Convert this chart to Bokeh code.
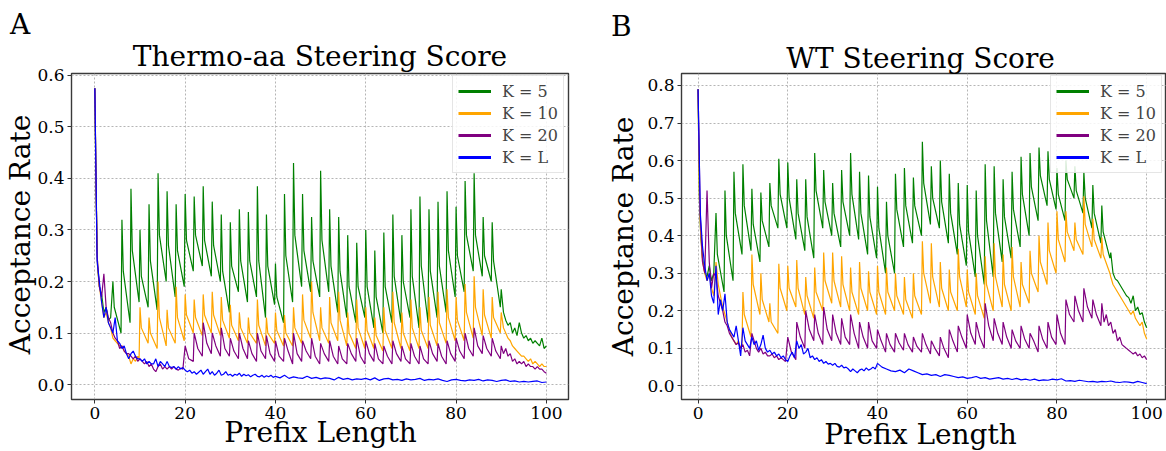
import numpy as np
from bokeh.plotting import figure
from bokeh.layouts import row
from bokeh.models import (Range1d, FixedTicker, NumeralTickFormatter, Label,
                          Legend, LegendItem)
from bokeh.embed import file_html
from bokeh.resources import INLINE

FONT = "DejaVu Serif"
SERIES_LABELS = ["K = 5", "K = 10", "K = 20", "K = L"]
SERIES_COLORS = ["green", "orange", "purple", "blue"]
X_TICKS = [0, 20, 40, 60, 80, 100]
A_Y_TICKS = [0.0, 0.1, 0.2, 0.3, 0.4, 0.5, 0.6]
B_Y_TICKS = [0.0, 0.1, 0.2, 0.3, 0.4, 0.5, 0.6, 0.7, 0.8]

# ---------------- Panel A : Thermo-aa Steering Score ----------------
A_K5_HEAD_X = [0, 0.3, 0.6, 1, 1.5, 2, 2.5, 3, 3.5]
A_K5_HEAD_Y = [0.575, 0.36, 0.23, 0.19, 0.175, 0.14, 0.15, 0.125, 0.13]
A_K5_PEAKS = [0.20, 0.32, 0.38, 0.30, 0.35, 0.41, 0.375, 0.35, 0.37, 0.365,
              0.385, 0.355, 0.33, 0.315, 0.34, 0.335, 0.385, 0.33, 0.235, 0.37,
              0.43, 0.37, 0.325, 0.415, 0.34, 0.325, 0.29, 0.275, 0.30, 0.26,
              0.295, 0.33, 0.29, 0.34, 0.365, 0.34, 0.355, 0.375, 0.345, 0.395,
              0.41, 0.325, 0.315]
A_K5_SHOULDERS = [0.15, 0.22, 0.26, 0.21, 0.24, 0.29, 0.27, 0.26, 0.28, 0.29,
                  0.28, 0.27, 0.22, 0.23, 0.24, 0.24, 0.24, 0.23, 0.17, 0.25,
                  0.29, 0.26, 0.24, 0.28, 0.23, 0.22, 0.19, 0.19, 0.19, 0.17,
                  0.19, 0.21, 0.20, 0.21, 0.23, 0.22, 0.23, 0.26, 0.25, 0.29,
                  0.29, 0.25, 0.24]
A_K5_TROUGHS = [0.10, 0.12, 0.16, 0.15, 0.145, 0.20, 0.17, 0.19, 0.22, 0.23,
                0.21, 0.20, 0.14, 0.18, 0.16, 0.17, 0.13, 0.155, 0.12, 0.16,
                0.19, 0.18, 0.17, 0.18, 0.14, 0.13, 0.12, 0.13, 0.11, 0.10,
                0.12, 0.12, 0.13, 0.11, 0.12, 0.13, 0.14, 0.17, 0.18, 0.22,
                0.21, 0.20, 0.15]
A_TAIL_X = [90, 90.5, 91, 91.5, 92, 92.5, 93, 93.5, 94, 94.5, 95, 95.5, 96,
            96.5, 97, 97.5, 98, 98.5, 99, 99.5, 100]
A_K5_TAIL_Y = [0.185, 0.14, 0.125, 0.115, 0.12, 0.10, 0.11, 0.095, 0.12, 0.10,
               0.09, 0.095, 0.085, 0.09, 0.08, 0.085, 0.08, 0.075, 0.09, 0.07,
               0.075]

K10_HEAD_X = [0, 0.3, 0.6, 1, 1.5, 2, 2.5, 3, 3.5, 4, 4.5, 5, 5.5, 6, 6.5, 7,
              7.5, 8, 8.5, 9, 9.5, 9.8]
A_K10_HEAD_Y = [0.575, 0.36, 0.23, 0.19, 0.16, 0.13, 0.14, 0.12, 0.11, 0.09,
                0.085, 0.08, 0.075, 0.075, 0.065, 0.06, 0.055, 0.04, 0.05,
                0.045, 0.055, 0.05]
A_K10_PEAKS = [0.15, 0.13, 0.20, 0.145, 0.19, 0.175, 0.165, 0.175, 0.18, 0.17,
               0.155, 0.14, 0.13, 0.165, 0.13, 0.14, 0.135, 0.15, 0.175, 0.20,
               0.15, 0.17, 0.18, 0.14, 0.165, 0.15, 0.13, 0.15, 0.18, 0.14,
               0.165, 0.15, 0.17, 0.18, 0.185, 0.17, 0.195, 0.21, 0.185, 0.17]
A_K10_SHOULDERS = [0.11, 0.10, 0.13, 0.11, 0.13, 0.135, 0.13, 0.135, 0.135, 0.125,
                   0.115, 0.11, 0.10, 0.115, 0.10, 0.105, 0.10, 0.11, 0.125, 0.14,
                   0.11, 0.12, 0.125, 0.10, 0.11, 0.105, 0.095, 0.105, 0.12, 0.10,
                   0.11, 0.105, 0.115, 0.12, 0.13, 0.125, 0.14, 0.15, 0.135, 0.13]
A_K10_TROUGHS = [0.08, 0.07, 0.075, 0.08, 0.085, 0.10, 0.095, 0.10, 0.095, 0.09,
                 0.085, 0.08, 0.08, 0.075, 0.08, 0.075, 0.075, 0.08, 0.09, 0.085,
                 0.08, 0.085, 0.075, 0.07, 0.07, 0.07, 0.065, 0.07, 0.07, 0.065,
                 0.07, 0.07, 0.075, 0.08, 0.085, 0.085, 0.09, 0.095, 0.09, 0.10]
A_K10_TAIL_Y = [0.14, 0.11, 0.10, 0.09, 0.085, 0.075, 0.07, 0.065, 0.06, 0.055,
                0.055, 0.05, 0.045, 0.05, 0.04, 0.045, 0.04, 0.035, 0.04, 0.035,
                0.035]

K20_HEAD_X = list(np.arange(0, 20, 0.5))
A_K20_HEAD_Y = [0.575, 0.25, 0.19, 0.17, 0.215, 0.15, 0.13, 0.12, 0.10, 0.09,
                0.085, 0.07, 0.075, 0.065, 0.06, 0.06, 0.055, 0.05, 0.055, 0.045,
                0.05, 0.045, 0.04, 0.045, 0.035, 0.04, 0.03, 0.025, 0.035, 0.04,
                0.03, 0.035, 0.03, 0.035, 0.03, 0.035, 0.03, 0.028, 0.032, 0.03]
A_K20_PEAKS = [0.075, 0.10, 0.12, 0.10, 0.11, 0.09, 0.10, 0.085, 0.10, 0.095,
               0.085, 0.09, 0.10, 0.085, 0.09, 0.08, 0.085, 0.075, 0.08, 0.09,
               0.085, 0.08, 0.075, 0.085, 0.075, 0.08, 0.075, 0.085, 0.08, 0.085,
               0.09, 0.10, 0.11, 0.095, 0.09]
A_K20_MIDS = [0.05, 0.07, 0.08, 0.075, 0.07, 0.065, 0.07, 0.06, 0.065, 0.06,
              0.055, 0.065, 0.06, 0.065, 0.055, 0.06, 0.055, 0.05, 0.06, 0.055,
              0.06, 0.05, 0.055, 0.06, 0.05, 0.055, 0.05, 0.06, 0.055, 0.06,
              0.065, 0.07, 0.075, 0.07, 0.065]
A_K20_TROUGHS = [0.045, 0.055, 0.06, 0.055, 0.055, 0.05, 0.05, 0.045, 0.05, 0.045,
                 0.045, 0.04, 0.045, 0.05, 0.04, 0.045, 0.04, 0.04, 0.045, 0.04,
                 0.045, 0.04, 0.04, 0.045, 0.04, 0.04, 0.04, 0.045, 0.04, 0.045,
                 0.05, 0.055, 0.06, 0.055, 0.05]
A_K20_TAIL_Y = [0.075, 0.06, 0.07, 0.055, 0.06, 0.045, 0.05, 0.04, 0.045, 0.04,
                0.045, 0.035, 0.04, 0.035, 0.035, 0.03, 0.035, 0.03, 0.03, 0.025,
                0.022]

KL_X = list(np.arange(0, 40, 0.5)) + list(range(40, 101))
A_KL_Y = [0.575, 0.24, 0.20, 0.16, 0.13, 0.15, 0.12, 0.11, 0.10, 0.13,
          0.085, 0.08, 0.07, 0.075, 0.06, 0.05, 0.06, 0.065, 0.055, 0.05,
          0.05, 0.045, 0.05, 0.04, 0.045, 0.04, 0.04, 0.05, 0.035, 0.045,
          0.04, 0.035, 0.045, 0.035, 0.033, 0.035, 0.03, 0.035, 0.03, 0.033,
          0.028, 0.025, 0.028, 0.022, 0.025, 0.02, 0.024, 0.028, 0.02, 0.025,
          0.03, 0.02, 0.025, 0.018, 0.022, 0.028, 0.018, 0.02, 0.025, 0.018,
          0.02, 0.016, 0.02, 0.018, 0.022, 0.016, 0.02, 0.017, 0.019, 0.015,
          0.018, 0.02, 0.016, 0.015, 0.018, 0.014, 0.017, 0.015, 0.018, 0.014,
          0.016, 0.013, 0.018, 0.012, 0.015, 0.013, 0.012, 0.016, 0.012, 0.014,
          0.011, 0.013, 0.012, 0.009, 0.014, 0.01, 0.012, 0.009, 0.011, 0.01,
          0.012, 0.009, 0.013, 0.008, 0.011, 0.012, 0.009, 0.01, 0.008, 0.011,
          0.009, 0.01, 0.012, 0.008, 0.01, 0.009, 0.011, 0.008, 0.006, 0.009,
          0.01, 0.008, 0.007, 0.009, 0.008, 0.01, 0.007, 0.009, 0.008, 0.006,
          0.008, 0.009, 0.006, 0.007, 0.005, 0.006, 0.005, 0.006, 0.007, 0.004,
          0.005]

# ---------------- Panel B : WT Steering Score ----------------
B_K5_HEAD_Y = [0.79, 0.50, 0.40, 0.34, 0.30, 0.29, 0.32, 0.28, 0.30]
B_K5_PEAKS = [0.46, 0.52, 0.57, 0.59, 0.525, 0.515, 0.54, 0.605, 0.595, 0.55,
              0.55, 0.62, 0.575, 0.54, 0.575, 0.62, 0.57, 0.56, 0.53, 0.49,
              0.565, 0.58, 0.555, 0.65, 0.585, 0.60, 0.565, 0.54, 0.535, 0.52,
              0.59, 0.585, 0.55, 0.57, 0.61, 0.62, 0.635, 0.625, 0.58, 0.60,
              0.585, 0.57, 0.535, 0.48]
B_K5_SHOULDERS = [0.35, 0.40, 0.46, 0.48, 0.43, 0.44, 0.48, 0.51, 0.50, 0.46,
                  0.45, 0.52, 0.49, 0.46, 0.49, 0.51, 0.46, 0.45, 0.42, 0.40,
                  0.47, 0.48, 0.48, 0.54, 0.50, 0.49, 0.46, 0.43, 0.41, 0.40,
                  0.44, 0.46, 0.45, 0.47, 0.51, 0.53, 0.56, 0.55, 0.51, 0.55,
                  0.52, 0.50, 0.46, 0.41]
B_K5_TROUGHS = [0.25, 0.28, 0.35, 0.36, 0.33, 0.37, 0.42, 0.42, 0.39, 0.36,
                0.34, 0.42, 0.40, 0.37, 0.40, 0.39, 0.35, 0.34, 0.30, 0.30,
                0.37, 0.38, 0.40, 0.43, 0.42, 0.38, 0.35, 0.32, 0.29, 0.27,
                0.29, 0.33, 0.34, 0.37, 0.40, 0.44, 0.48, 0.47, 0.44, 0.50,
                0.46, 0.42, 0.38, 0.34]
B_TAIL_X = [92, 92.5, 93, 93.5, 94, 94.5, 95, 95.5, 96, 96.5, 97, 97.5, 98,
            98.5, 99, 99.5, 100]
B_K5_TAIL_Y = [0.355, 0.30, 0.285, 0.28, 0.27, 0.26, 0.25, 0.24, 0.235, 0.22,
               0.24, 0.20, 0.21, 0.19, 0.195, 0.17, 0.155]

B_K10_HEAD_Y = [0.79, 0.50, 0.40, 0.33, 0.30, 0.28, 0.30, 0.26, 0.24, 0.33,
                0.27, 0.24, 0.21, 0.19, 0.17, 0.15, 0.13, 0.12, 0.11, 0.12,
                0.10, 0.11]
B_K10_PEAKS = [0.25, 0.35, 0.30, 0.22, 0.325, 0.32, 0.335, 0.29, 0.315, 0.355,
               0.355, 0.345, 0.315, 0.33, 0.305, 0.32, 0.315, 0.30, 0.29, 0.30,
               0.385, 0.38, 0.33, 0.31, 0.365, 0.31, 0.30, 0.345, 0.38, 0.35,
               0.37, 0.33, 0.36, 0.40, 0.435, 0.465, 0.465, 0.435, 0.505, 0.445,
               0.395]
B_K10_SHOULDERS = [0.19, 0.27, 0.23, 0.17, 0.26, 0.26, 0.26, 0.24, 0.25, 0.28,
                   0.28, 0.27, 0.25, 0.26, 0.25, 0.25, 0.25, 0.24, 0.23, 0.24,
                   0.30, 0.29, 0.26, 0.25, 0.29, 0.25, 0.24, 0.27, 0.29, 0.27,
                   0.29, 0.27, 0.30, 0.33, 0.36, 0.39, 0.41, 0.39, 0.43, 0.39,
                   0.35]
B_K10_TROUGHS = [0.13, 0.19, 0.17, 0.14, 0.20, 0.21, 0.19, 0.18, 0.20, 0.22,
                 0.21, 0.20, 0.19, 0.20, 0.19, 0.19, 0.20, 0.19, 0.18, 0.19,
                 0.22, 0.21, 0.20, 0.20, 0.21, 0.19, 0.18, 0.20, 0.21, 0.20,
                 0.21, 0.22, 0.25, 0.27, 0.30, 0.33, 0.36, 0.35, 0.37, 0.34,
                 0.30]
B_K10_TAIL_Y = [0.29, 0.27, 0.26, 0.25, 0.24, 0.23, 0.22, 0.21, 0.20, 0.19,
                0.20, 0.18, 0.17, 0.16, 0.17, 0.14, 0.125]

B_K20_HEAD_Y = [0.79, 0.45, 0.33, 0.30, 0.52, 0.33, 0.26, 0.30, 0.29, 0.24,
                0.22, 0.20, 0.17, 0.16, 0.14, 0.13, 0.12, 0.11, 0.115, 0.10,
                0.11, 0.09, 0.095, 0.08, 0.14, 0.12, 0.10, 0.09, 0.10, 0.085,
                0.09, 0.08, 0.08, 0.085, 0.075, 0.08, 0.07, 0.075, 0.07, 0.065]
B_K20_PEAKS = [0.13, 0.17, 0.20, 0.19, 0.21, 0.19, 0.18, 0.19, 0.17, 0.17,
               0.15, 0.14, 0.14, 0.14, 0.13, 0.14, 0.12, 0.13, 0.15, 0.16,
               0.19, 0.17, 0.22, 0.18, 0.17, 0.15, 0.16, 0.14, 0.16, 0.17,
               0.19, 0.23, 0.24, 0.26, 0.23]
B_K20_MIDS = [0.09, 0.13, 0.15, 0.14, 0.15, 0.14, 0.13, 0.14, 0.13, 0.12,
              0.12, 0.11, 0.115, 0.11, 0.105, 0.11, 0.10, 0.10, 0.12, 0.13,
              0.14, 0.13, 0.16, 0.14, 0.13, 0.12, 0.125, 0.12, 0.125, 0.13,
              0.14, 0.19, 0.20, 0.21, 0.19]
B_K20_TROUGHS = [0.07, 0.10, 0.12, 0.11, 0.12, 0.11, 0.11, 0.10, 0.10, 0.10,
                 0.09, 0.09, 0.095, 0.09, 0.09, 0.085, 0.08, 0.075, 0.09, 0.10,
                 0.11, 0.10, 0.12, 0.11, 0.10, 0.10, 0.10, 0.09, 0.10, 0.11,
                 0.11, 0.17, 0.17, 0.18, 0.16]
B_K20_TAIL_Y = [0.22, 0.17, 0.19, 0.16, 0.17, 0.14, 0.15, 0.12, 0.13, 0.11,
                0.105, 0.10, 0.095, 0.09, 0.085, 0.09, 0.08, 0.085, 0.075, 0.08,
                0.07]

B_KL_Y = [0.79, 0.46, 0.37, 0.32, 0.28, 0.30, 0.24, 0.22, 0.32, 0.19,
          0.23, 0.20, 0.245, 0.17, 0.15, 0.14, 0.13, 0.16, 0.12, 0.08,
          0.155, 0.12, 0.11, 0.10, 0.13, 0.11, 0.12, 0.095, 0.11, 0.135,
          0.10, 0.09, 0.095, 0.085, 0.09, 0.08, 0.085, 0.075, 0.08, 0.07,
          0.065, 0.08, 0.09, 0.075, 0.12, 0.10, 0.11, 0.085, 0.09, 0.10,
          0.075, 0.08, 0.07, 0.075, 0.065, 0.07, 0.06, 0.065, 0.058, 0.06,
          0.055, 0.06, 0.052, 0.05, 0.055, 0.048, 0.05, 0.045, 0.038, 0.045,
          0.04, 0.035, 0.042, 0.045, 0.04, 0.048, 0.042, 0.045, 0.05, 0.045,
          0.06, 0.05, 0.045, 0.04, 0.038, 0.042, 0.035, 0.045, 0.04, 0.035,
          0.03, 0.032, 0.028, 0.03, 0.025, 0.03, 0.028, 0.025, 0.022, 0.024,
          0.02, 0.022, 0.025, 0.02, 0.022, 0.018, 0.02, 0.022, 0.018, 0.02,
          0.017, 0.02, 0.016, 0.018, 0.015, 0.018, 0.014, 0.016, 0.015, 0.018,
          0.016, 0.019, 0.013, 0.014, 0.012, 0.015, 0.013, 0.011, 0.012, 0.01,
          0.012, 0.011, 0.013, 0.01, 0.009, 0.011, 0.01, 0.008, 0.012, 0.009,
          0.006]


def build(head_x, head_y, start, tops, middles, bottoms, mid_dx, tail_x, tail_y):
    xs, ys = list(head_x), list(head_y)
    for i, (a, m, b) in enumerate(zip(tops, middles, bottoms)):
        x0 = start + 2 * i
        xs += [x0, x0 + mid_dx, x0 + 1.8]
        ys += [a, m, b]
    xs += list(tail_x)
    ys += list(tail_y)
    return xs, ys


def to_data(px, py, fr, xr, yr):
    # fr: page coordinates of the plotting frame (l, r, t, b)
    l, r, t, b = fr
    x = xr[0] + (px - l) / (r - l) * (xr[1] - xr[0])
    y = yr[0] + (b - py) / (b - t) * (yr[1] - yr[0])
    return x, y


SHIFT = 10.5   # baseline correction for side-panel labels (px)


def make_panel(width, height, x0, fr, xr, yr, yticks, series, title, letter,
               letter_pos, letter_side, title_pos, ylab_pos, xlab_pos,
               legend_loc):
    l, r, t, b = fr
    p = figure(width=width, height=height, x_range=Range1d(*xr),
               y_range=Range1d(*yr), output_backend="svg",
               toolbar_location=None,
               min_border_left=int(round(l - x0)),
               min_border_right=int(round(x0 + width - r)),
               min_border_top=int(round(t)),
               min_border_bottom=int(round(height - b)))
    p.background_fill_color = "white"
    p.border_fill_color = "white"
    p.outline_line_color = "#3a3a3a"
    p.outline_line_width = 1.4
    p.xaxis.ticker = FixedTicker(ticks=X_TICKS)
    p.yaxis.ticker = FixedTicker(ticks=yticks)
    p.yaxis.formatter = NumeralTickFormatter(format="0.0")
    for ax in (p.xaxis, p.yaxis):
        ax.axis_line_color = None
        ax.major_tick_line_color = "#333333"
        ax.major_tick_out = 4
        ax.major_tick_in = 0
        ax.minor_tick_line_color = None
        ax.major_label_standoff = 3
        ax.major_label_text_font = FONT
        ax.major_label_text_font_size = "17px"
        ax.major_label_text_color = "black"
    p.grid.grid_line_color = "#b5b5b5"
    p.grid.grid_line_dash = "2 2"
    p.grid.grid_line_width = 1

    items = []
    for (xs, ys), lab, col in zip(series, SERIES_LABELS, SERIES_COLORS):
        p.line(xs, ys, line_color=col, line_width=1.2)
        dummy = p.line(np.array([np.nan, np.nan]), np.array([np.nan, np.nan]),
                       line_color=col, line_width=2.8)
        items.append(LegendItem(label=lab, renderers=[dummy]))

    leg = Legend(items=items, location=legend_loc)
    leg.label_text_font = FONT
    leg.label_text_font_size = "16px"
    leg.glyph_width = 33
    leg.glyph_height = 20
    leg.label_height = 20
    leg.label_standoff = 11
    leg.padding = 5
    leg.spacing = 2
    leg.margin = 0
    leg.border_line_color = "#cccccc"
    leg.border_line_width = 1
    leg.background_fill_color = "white"
    leg.background_fill_alpha = 0.85
    p.add_layout(leg)

    common = dict(text_font=FONT, text_color="black", text_font_size="28px")
    lx, ly = to_data(letter_pos[0], letter_pos[1] - SHIFT, fr, xr, yr)
    p.add_layout(Label(x=lx, y=ly, text=letter, text_align="left",
                       text_baseline="alphabetic", **common), letter_side)
    tx, ty = to_data(title_pos[0], title_pos[1] - SHIFT, fr, xr, yr)
    p.add_layout(Label(x=tx, y=ty, text=title, text_align="center",
                       text_baseline="alphabetic", **common), "above")
    xx, xy = to_data(xlab_pos[0], xlab_pos[1] - SHIFT, fr, xr, yr)
    p.add_layout(Label(x=xx, y=xy, text="Prefix Length", text_align="center",
                       text_baseline="alphabetic", **common), "above")
    yx, yy = to_data(ylab_pos[0] - SHIFT, ylab_pos[1], fr, xr, yr)
    p.add_layout(Label(x=yx, y=yy, text="Acceptance Rate", angle=np.pi / 2,
                       text_align="center", text_baseline="alphabetic",
                       **common), "left")
    return p


# ---- Panel A ----
a_series = [
    build(A_K5_HEAD_X, A_K5_HEAD_Y, 4, A_K5_PEAKS, A_K5_SHOULDERS, A_K5_TROUGHS,
          0.3, A_TAIL_X, A_K5_TAIL_Y),
    build(K10_HEAD_X, A_K10_HEAD_Y, 10, A_K10_PEAKS, A_K10_SHOULDERS,
          A_K10_TROUGHS, 0.3, A_TAIL_X, A_K10_TAIL_Y),
    build(K20_HEAD_X, A_K20_HEAD_Y, 20, A_K20_PEAKS, A_K20_MIDS, A_K20_TROUGHS,
          0.8, A_TAIL_X, A_K20_TAIL_Y),
    (KL_X, A_KL_Y),
]
A_FR = (71, 568, 73, 401)
A_XR = (-5.17, 104.9)
A_YR = (-0.029, 0.6037)
pa = make_panel(590, 451, 0, A_FR, A_XR, A_YR, A_Y_TICKS, a_series,
                "Thermo-aa Steering Score", "A", (9.5, 34.5), "right",
                (319.5, 66.5), (30.5, 235), (320, 444.5), (381, 226))

# ---- Panel B ----
b_series = [
    build(A_K5_HEAD_X, B_K5_HEAD_Y, 4, B_K5_PEAKS, B_K5_SHOULDERS, B_K5_TROUGHS,
          0.3, B_TAIL_X, B_K5_TAIL_Y),
    build(K10_HEAD_X, B_K10_HEAD_Y, 10, B_K10_PEAKS, B_K10_SHOULDERS,
          B_K10_TROUGHS, 0.3, B_TAIL_X, B_K10_TAIL_Y),
    build(K20_HEAD_X, B_K20_HEAD_Y, 20, B_K20_PEAKS, B_K20_MIDS, B_K20_TROUGHS,
          0.8, A_TAIL_X, B_K20_TAIL_Y),
    (KL_X, B_KL_Y),
]
B_FR = (677, 1166, 70, 399)
B_XR = (-3.69, 104.42)
B_YR = (-0.0362, 0.8318)
pb = make_panel(576, 451, 590, B_FR, B_XR, B_YR, B_Y_TICKS, b_series,
                "WT Steering Score", "B", (606, 33.5), "left",
                (918, 65), (629.5, 234.5), (918, 444.5), (369, 226))

layout = row(pa, pb)
open("out.html", "w").write(file_html(layout, INLINE))
